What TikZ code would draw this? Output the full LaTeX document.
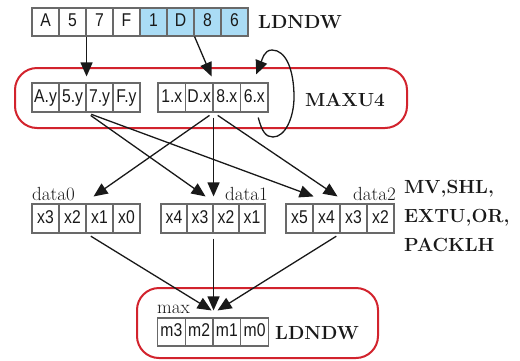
\documentclass[tikz,border=0pt]{standalone}
\usepackage{fontspec}
\newfontfamily\cellfont[FakeStretch=0.85]{Liberation Sans}
\usetikzlibrary{arrows.meta}
\definecolor{cellblue}{RGB}{170,220,245}
\definecolor{boxred}{RGB}{210,35,45}
\definecolor{cellgray}{RGB}{105,105,105}
\definecolor{ink}{RGB}{25,25,25}
\begin{document}
\begin{tikzpicture}[x=1pt,y=-1pt,
  cell/.style={draw=cellgray, line width=1.1pt, minimum height=29pt, inner sep=0pt,
    text height=13pt, text depth=3.5pt,
    font=\cellfont\fontsize{18.5}{20}\selectfont, text=ink},
  bluecell/.style={cell, fill=cellblue},
  redbox/.style={draw=boxred, line width=2pt, rounded corners=22pt, inner sep=0pt},
  arr/.style={draw=ink, line width=1.3pt, -{Triangle[length=14pt,width=12pt]}},
  blab/.style={inner sep=0pt, font=\fontsize{19}{22}\selectfont\bfseries, text=ink},
  slab/.style={inner sep=0pt, font=\fontsize{19}{21}\selectfont, text=ink}
]
\useasboundingbox (0,0) rectangle (520,360);

% red boxes
\node[redbox, minimum width=392pt, minimum height=60pt] (rb1) at (211,98) {};
\node[redbox, minimum width=241pt, minimum height=70pt] (rb2) at (257.5,323) {};

% top row
\foreach \t [count=\i] in {A,5,7,F}
  \node[cell, minimum width=27pt, minimum height=28pt] (t\i) at ({18.5+27*\i},22) {\t};
\foreach \t [count=\i from 5] in {1,D,8,6}
  \node[bluecell, minimum width=27pt, minimum height=28pt] (t\i) at ({18.5+27*\i},22) {\t};

% MAXU4 rows
\foreach \t [count=\i] in {A.y,5.y,7.y,F.y}
  \node[cell, minimum width=27pt] (my\i) at ({18.5+27*\i},97.5) {\t};
\foreach \t [count=\i] in {1.x,D.x,8.x,6.x}
  \node[cell, minimum width=27.5pt] (mx\i) at ({144.25+27.5*\i},97.5) {\t};

% data rows
\foreach \t [count=\i] in {x3,x2,x1,x0}
  \node[cell, minimum width=27pt] (d0-\i) at ({18.5+27*\i},218.5) {\t};
\foreach \t [count=\i] in {x4,x3,x2,x1}
  \node[cell, minimum width=26pt] (d1-\i) at ({148+26*\i},218.5) {\t};
\foreach \t [count=\i] in {x5,x4,x3,x2}
  \node[cell, minimum width=27pt] (d2-\i) at ({272.5+27*\i},218.5) {\t};

% max row
\foreach \t [count=\i] in {m3,m2,m1,m0}
  \node[cell, minimum width=27.75pt, minimum height=28pt] (mm\i) at ({143.625+27.75*\i},332) {\t};

% labels
\node[blab, anchor=base west] (ld1) at (258,28.5) {LDNDW};
\node[blab, anchor=base west] (mxl) at (305,106) {MAXU4};
\node[slab, anchor=base west] (lb0) at (32,200) {data0};
\node[slab, anchor=base west] (lb1) at (225,200) {data1};
\node[slab, anchor=base west] (lb2) at (353,200) {data2};
\node[slab, anchor=base west] (lbm) at (157,313) {max};
\node[blab, anchor=base west] (ld2) at (275,339) {LDNDW};
\node[blab, anchor=base west] (op1) at (404,193) {MV,SHL,};
\node[blab, anchor=base west] (op2) at (404,222) {EXTU,OR,};
\node[blab, anchor=base west] (op3) at (404,251.5) {PACKLH};

% top -> MAXU4
\draw[arr] (t2.south east) -- ([yshift=6pt]my2.north east);
\draw[arr] (t6.south east) -- ([xshift=-2pt,yshift=6pt]mx2.north east);

% loop on 6.x
\coordinate (la) at ([xshift=4pt,yshift=-5pt]mx4.south);
\coordinate (lb) at ([xshift=2pt,yshift=8pt]mx4.north);
\draw[arr] (la) .. controls (262,132) and (266,137) .. (273,137)
  .. controls (285,137) and (294,118) .. (294,97)
  .. controls (294,70) and (286,50) .. (272,50)
  .. controls (264,50) and (262,60) .. (lb);

% MAXU4 -> data
\draw[arr, shorten <=5pt] (my2.south east) -- ([xshift=-8pt,yshift=7pt]d1-2.north east);
\draw[arr, shorten <=5pt] (my2.south east) -- ([yshift=7pt]d2-1.north east);
\draw[arr, shorten <=5pt] (mx2.south east) -- ([xshift=7pt,yshift=7pt]d0-2.north east);
\draw[arr, shorten <=5pt] (mx2.south east) -- ([yshift=7pt]d1-2.north east);
\draw[arr, shorten <=5pt] (mx2.south east) -- ([xshift=-3pt,yshift=7pt]d2-2.north east);

% data -> max
\draw[arr, shorten <=5pt] (d0-2.south east) -- ([xshift=-2pt,yshift=7pt]mm2.north east);
\draw[arr, shorten <=5pt] (d1-2.south east) -- ([yshift=7pt]mm2.north east);
\draw[arr, shorten <=5pt] (d2-2.south east) -- ([xshift=4pt,yshift=7pt]mm2.north east);
\end{tikzpicture}
\end{document}
